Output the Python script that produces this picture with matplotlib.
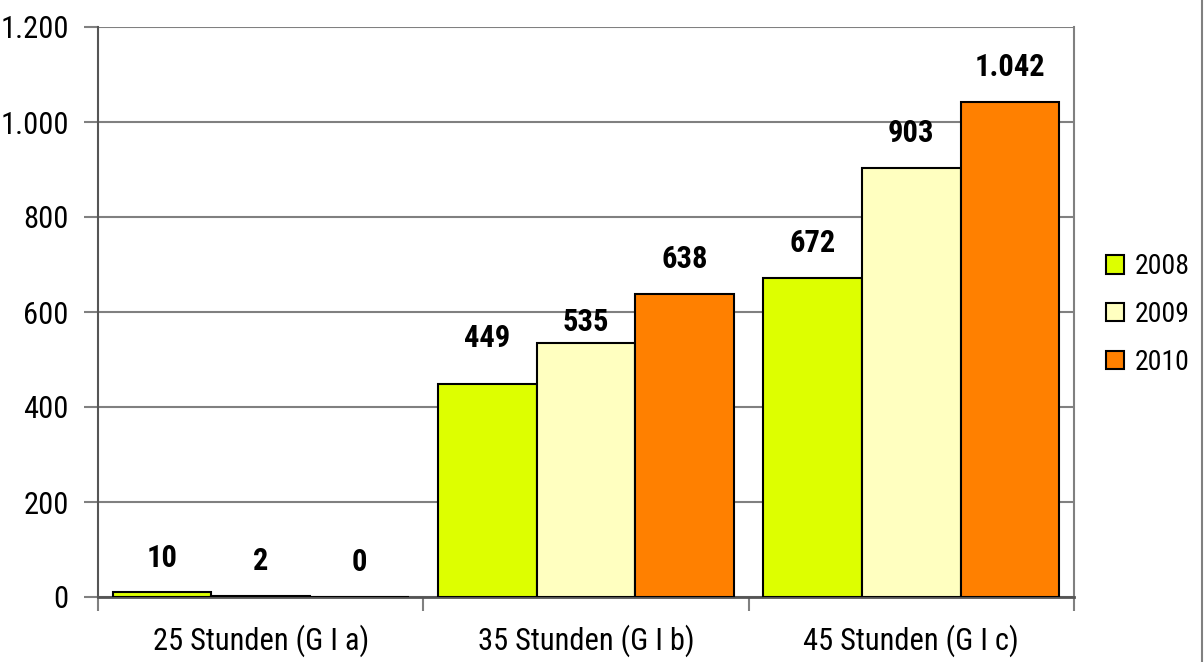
import numpy as np
import matplotlib
matplotlib.use('Agg')
from matplotlib import pyplot as plt
from matplotlib.lines import Line2D

categories = ['25 Stunden (G I a)', '35 Stunden (G I b)', '45 Stunden (G I c)']
years = ['2008', '2009', '2010']
v2008 = [10, 449, 672]
v2009 = [2, 535, 903]
v2010 = [0, 638, 1042]
colors = ['#DDFF00', '#FFFFC0', '#FF8000']

plt.rcParams['font.family'] = ['Liberation Sans Narrow', 'Arial Narrow', 'Roboto Condensed',
                               'PT Sans Narrow', 'Archivo Narrow', 'DejaVu Sans']

def fmt(v):
    # German thousands separator
    return f'{v:,.0f}'.replace(',', '.')

# labels nudged so they don't crowd each other
nudge = {449: 33, 535: 15}

fig = plt.figure(figsize=(12.04, 6.62), dpi=100)
ax = fig.add_axes([98/1204, 65/662, 976/1204, 570/662])

x = np.arange(len(categories))
w = 0.303
series = [v2008, v2009, v2010]
for i, (vals, c, lab) in enumerate(zip(series, colors, years)):
    pos = x + (i - 1) * w
    ax.bar(pos, vals, w, color=c, edgecolor='black', linewidth=1.5, label=lab, zorder=3)
    for p, v in zip(pos, vals):
        ax.annotate(fmt(v), (p, v), xytext=(0, nudge.get(v, 25)), textcoords='offset points',
                    ha='center', va='center', fontsize=22, fontweight='bold', zorder=4)

ax.set_xlim(-0.5, 2.5)
ax.set_ylim(0, 1200)
ax.set_yticks(np.arange(0, 1201, 200))
ax.set_yticklabels([fmt(t) for t in np.arange(0, 1201, 200)])
ax.yaxis.grid(True, color='#808080', linewidth=1.5, zorder=0)

ax.set_xticks(x)
ax.set_xticklabels(categories)
ax.set_xticks([-0.5, 0.5, 1.5, 2.5], minor=True)
ax.tick_params(axis='x', which='major', length=0, pad=20, labelsize=22)
ax.tick_params(axis='x', which='minor', length=10, width=1.5, color='#808080', direction='out')
ax.tick_params(axis='y', length=10, width=1.5, color='#808080', pad=11, labelsize=22)

ax.spines['top'].set_visible(False)
ax.spines['left'].set_color('#555555')
ax.spines['left'].set_linewidth(1.5)
ax.spines['bottom'].set_color('#555555')
ax.spines['bottom'].set_linewidth(2)
ax.spines['right'].set_color('#808080')
ax.spines['right'].set_linewidth(1.5)

ax.legend(loc='center left', bbox_to_anchor=(1106/1204, 0.525), bbox_transform=fig.transFigure,
          frameon=False, fontsize=20, borderpad=0, borderaxespad=0,
          handlelength=0.65, handleheight=0.65, handletextpad=0.4, labelspacing=0.75)

fig.add_artist(Line2D([0.9985, 0.9985], [0, 1], color='#808080', linewidth=1.5))

fig.savefig('out.png', dpi=100)
